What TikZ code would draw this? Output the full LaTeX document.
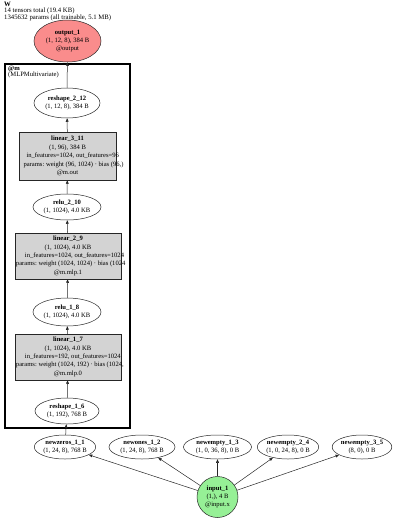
\documentclass[tikz,border=0pt]{standalone}
\usepackage{fontspec}
\setmainfont{Liberation Serif}
\usepackage{xcolor}
\definecolor{outred}{RGB}{250,140,140}
\definecolor{ingreen}{RGB}{150,240,150}
\definecolor{lgray}{RGB}{211,211,211}
\usepackage{tikz}
\usetikzlibrary{arrows.meta,shapes.geometric,positioning}
\newcommand\nodefont{\frenchspacing\fontsize{6.6}{8.4}\selectfont}

\begin{document}
\begin{tikzpicture}[
  x=1pt,y=-1pt,
  tnode/.style={ellipse,draw=black!85,line width=0.5pt,inner sep=0pt,align=center,font=\nodefont},
  lbox/.style={rectangle,draw=black!85,line width=0.5pt,fill=lgray,inner sep=0pt,align=center,font=\nodefont},
  arrow/.style={-{Triangle[length=3.5pt,width=2.8pt]},line width=0.5pt,black!85}
]
  \useasboundingbox (0,0) rectangle (400,520);

  % === Module cluster ===
  \draw[line width=2pt] (5,64) rectangle (130,428);
  \node[anchor=north west,align=left,inner sep=0pt,font=\fontsize{6.6}{6.8}\selectfont] (mlab) at (8,65.5)
    {\textbf{@m}\\(MLPMultivariate)};

  % === Layer chain ===
  \node[tnode,fill=outred,minimum width=67pt,minimum height=42pt] (out) at (67.5,41)
    {\textbf{output\_1}\\(1, 12, 8), 384 B\\@output};
  \node[tnode,minimum width=66pt,minimum height=30pt] (resh2) at (67,103)
    {\textbf{reshape\_2\_12}\\(1, 12, 8), 384 B};
  \node[lbox,minimum width=97pt,minimum height=48pt] (lin3) at (67.5,156)
    {\textbf{linear\_3\_11}\\(1, 96), 384 B\\
     \makebox[82pt][l]{in\_features=1024, out\_features=96}\\
     \makebox[88pt][l]{params: weight (96, 1024) · bias (96,)}\\@m.out};
  \node[tnode,minimum width=68pt,minimum height=26pt] (relu2) at (67,207)
    {\textbf{relu\_2\_10}\\(1, 1024), 4.0 KB};
  \node[lbox,minimum width=106pt,minimum height=46pt] (lin2) at (68,256)
    {\textbf{linear\_2\_9}\\(1, 1024), 4.0 KB\\
     \makebox[86pt][l]{in\_features=1024, out\_features=1024}\\
     \makebox[104pt][l]{params: weight (1024, 1024) · bias (1024}\\@m.mlp.1};
  \node[tnode,minimum width=68pt,minimum height=28pt] (relu1) at (67,312)
    {\textbf{relu\_1\_8}\\(1, 1024), 4.0 KB};
  \node[lbox,minimum width=106pt,minimum height=46pt] (lin1) at (68,357)
    {\textbf{linear\_1\_7}\\(1, 1024), 4.0 KB\\
     \makebox[86pt][l]{in\_features=192, out\_features=1024}\\
     \makebox[104pt][l]{params: weight (1024, 192) · bias (1024,}\\@m.mlp.0};
  \node[tnode,minimum width=64pt,minimum height=26pt] (resh1) at (67,411)
    {\textbf{reshape\_1\_6}\\(1, 192), 768 B};

  % === Tensor constructors ===
  \node[tnode,minimum width=60pt,minimum height=24pt] (nzeros) at (65,447)
    {\textbf{newzeros\_1\_1}\\(1, 24, 8), 768 B};
  \node[tnode,minimum width=66pt,minimum height=24pt] (nones) at (142,447)
    {\textbf{newones\_1\_2}\\(1, 24, 8), 768 B};
  \node[tnode,minimum width=68pt,minimum height=24pt] (nempty1) at (217.5,447)
    {\textbf{newempty\_1\_3}\\(1, 0, 36, 8), 0 B};
  \node[tnode,minimum width=60pt,minimum height=24pt] (nempty2) at (288,447)
    {\textbf{newempty\_2\_4}\\(1, 0, 24, 8), 0 B};
  \node[tnode,minimum width=56pt,minimum height=24pt] (nempty3) at (362,447)
    {\textbf{newempty\_3\_5}\\(8, 0), 0 B};
  \node[tnode,circle,fill=ingreen,minimum size=41pt] (input) at (217.5,497)
    {\textbf{input\_1}\\(1,), 4 B\\@input.x};

  % === Header ===
  \node[anchor=north west,align=left,inner sep=0pt,font=\fontsize{6.75}{6}\selectfont] (title) at (4,1.5)
    {\textbf{W}\\14 tensors total (19.4 KB)\\1345632 params (all trainable, 5.1 MB)};

  % Data flow
  \draw[arrow] (resh2) -- (out);
  \draw[arrow] (lin3) -- (resh2);
  \draw[arrow] (relu2) -- (lin3);
  \draw[arrow] (lin2) -- (relu2);
  \draw[arrow] (relu1) -- (lin2);
  \draw[arrow] (lin1) -- (relu1);
  \draw[arrow] (resh1) -- (lin1);
  \draw[arrow] (nzeros) -- (resh1);
  \draw[arrow] (input) -- (nzeros);
  \draw[arrow] (input) -- (nones);
  \draw[arrow] (input) -- (nempty1);
  \draw[arrow] (input) -- (nempty2);
  \draw[arrow] (input) -- (nempty3);
\end{tikzpicture}
\end{document}
